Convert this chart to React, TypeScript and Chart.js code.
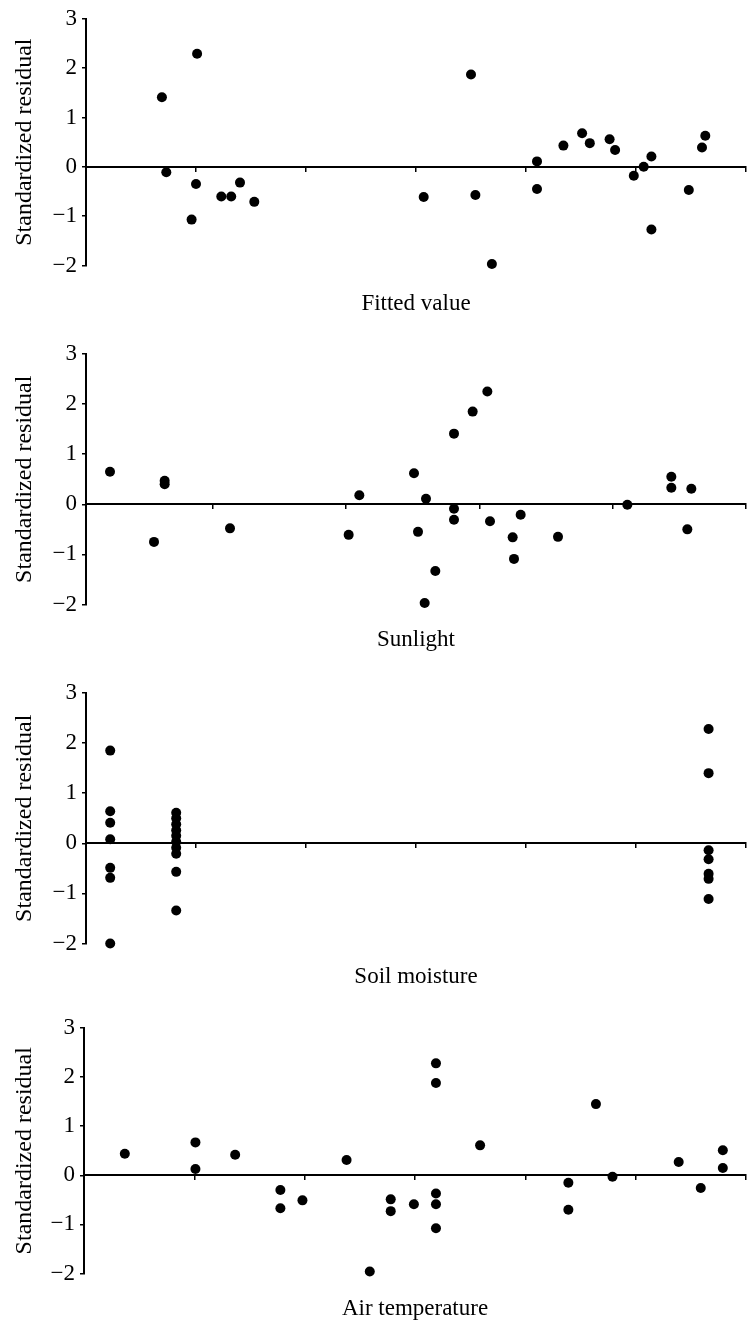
import React, { useEffect, useRef } from 'react';
import { Chart, registerables } from 'chart.js';

Chart.register(...registerables);

// ---------- DATA ----------
const yTickValues = [-2, -1, 0, 1, 2, 3];
const yTickLabels = ['\u22122', '\u22121', '0', '1', '2', '3'];
const yAxisTitle = 'Standardized residual';

const fittedTitle = 'Fitted value';
const fittedXRange = [0, 6];
const fittedXTicks = [0, 1, 2, 3, 4, 5, 6];
const fittedX = [0.69, 0.73, 1.01, 1.0, 0.96, 1.23, 1.32, 1.4, 1.53, 3.5, 3.07, 3.54, 3.69, 4.1, 4.1, 4.34, 4.51, 4.58, 4.76, 4.81, 4.98, 5.07, 5.14, 5.14, 5.48, 5.6, 5.63];
const fittedY = [1.41, -0.11, 2.29, -0.35, -1.07, -0.6, -0.6, -0.32, -0.71, 1.87, -0.61, -0.57, -1.97, 0.11, -0.45, 0.43, 0.68, 0.48, 0.56, 0.34, -0.18, 0.0, 0.21, -1.27, -0.47, 0.39, 0.63];

const sunTitle = 'Sunlight';
const sunXRange = [0.05, 5];
const sunXTicks = [1, 2, 3, 4, 5];
const sunX = [0.23, 0.56, 0.64, 0.64, 1.13, 2.02, 2.1, 2.51, 2.6, 2.54, 2.67, 2.59, 2.81, 2.81, 2.81, 2.95, 3.06, 3.08, 3.25, 3.26, 3.31, 3.59, 4.11, 4.44, 4.44, 4.59, 4.56];
const sunY = [0.65, -0.75, 0.47, 0.4, -0.48, -0.61, 0.18, 0.62, 0.11, -0.55, -1.33, -1.97, 1.41, -0.09, -0.31, 1.85, 2.25, -0.34, -0.66, -1.09, -0.21, -0.65, -0.01, 0.55, 0.33, 0.31, -0.5];

const soilTitle = 'Soil moisture';
const soilXRange = [0, 6];
const soilXTicks = [0, 1, 2, 3, 4, 5, 6];
const soilX = [0.22, 0.22, 0.22, 0.22, 0.22, 0.22, 0.22, 0.82, 0.82, 0.82, 0.82, 0.82, 0.82, 0.82, 0.82, 0.82, 0.82, 5.66, 5.66, 5.66, 5.66, 5.66, 5.66, 5.66];
const soilY = [1.85, 0.64, 0.41, 0.08, -0.49, -0.69, -2.0, 0.61, 0.5, 0.38, 0.26, 0.15, 0.03, -0.09, -0.21, -0.57, -1.34, 2.28, 1.4, -0.14, -0.32, -0.61, -0.71, -1.11];

const airTitle = 'Air temperature';
const airXRange = [0, 6];
const airXTicks = [0, 1, 2, 3, 4, 5, 6];
const airX = [0.37, 1.01, 1.01, 1.37, 1.78, 1.78, 1.98, 2.38, 2.59, 2.78, 2.78, 2.99, 3.19, 3.19, 3.19, 3.19, 3.19, 3.59, 4.39, 4.39, 4.64, 4.79, 5.39, 5.59, 5.79, 5.79];
const airY = [0.44, 0.67, 0.13, 0.42, -0.3, -0.67, -0.51, 0.31, -1.96, -0.49, -0.73, -0.59, 2.28, 1.88, -0.37, -0.59, -1.08, 0.61, -0.15, -0.7, 1.45, -0.03, 0.27, -0.26, 0.51, 0.15];

// ---------- LAYOUT (page pixels) ----------
const SERIF = "'Liberation Serif', 'Times New Roman', 'DejaVu Serif', serif";
const TITLE_SIZE = 23;

const PANELS = [
  { title: fittedTitle, xs: fittedX, ys: fittedY, range: fittedXRange, xTicks: fittedXTicks, canvasTop: 0, chartTop: 14, chartBottom: 265, titleMid: 303, left: 86 },
  { title: sunTitle, xs: sunX, ys: sunY, range: sunXRange, xTicks: sunXTicks, canvasTop: 325, chartTop: 354, chartBottom: 604, titleMid: 639, left: 86 },
  { title: soilTitle, xs: soilX, ys: soilY, range: soilXRange, xTicks: soilXTicks, canvasTop: 664, chartTop: 693, chartBottom: 943, titleMid: 976, left: 86 },
  { title: airTitle, xs: airX, ys: airY, range: airXRange, xTicks: airXTicks, canvasTop: 999, chartTop: 1028, chartBottom: 1273, titleMid: 1308, left: 84 },
];

function Panel({ p }: { p: any }) {
  const ref = useRef<HTMLCanvasElement | null>(null);
  const titlePadTop = p.titleMid - p.chartBottom - TITLE_SIZE / 2;
  const titlePadBottom = 0;
  const height = Math.min(
    1321 - p.canvasTop,
    Math.round(p.chartBottom - p.canvasTop + titlePadTop + TITLE_SIZE + titlePadBottom)
  );

  useEffect(() => {
    if (!ref.current) return;
    const chart = new Chart(ref.current, {
      type: 'scatter',
      data: {
        datasets: [
          {
            data: p.xs.map((x: number, i: number) => ({ x, y: p.ys[i] })),
            backgroundColor: '#000',
            borderColor: '#000',
            borderWidth: 0,
            pointRadius: 5,
            pointHoverRadius: 5,
            clip: false,
          },
        ],
      },
      options: {
        animation: false,
        responsive: false,
        devicePixelRatio: 1,
        events: [],
        layout: { padding: { top: p.chartTop - p.canvasTop, left: 0, right: 0, bottom: 0 } },
        plugins: {
          legend: { display: false },
          tooltip: { enabled: false },
          title: {
            display: true,
            text: p.title,
            position: 'bottom',
            fullSize: false,
            color: '#000',
            font: { family: SERIF, size: TITLE_SIZE, weight: 'normal', lineHeight: 1.0 },
            padding: { top: titlePadTop, bottom: titlePadBottom },
          },
        },
        scales: {
          x: {
            type: 'linear',
            position: { y: 0 },
            min: p.range[0],
            max: p.range[1],
            afterBuildTicks: (s: any) => {
              s.ticks = p.xTicks.map((v: number) => ({ value: v }));
            },
            ticks: { display: false },
            grid: { drawOnChartArea: false, drawTicks: true, tickLength: 4, color: '#000', lineWidth: 1.5 },
            border: { display: true, color: '#000', width: 2 },
          },
          y: {
            type: 'linear',
            position: 'left',
            min: -2,
            max: 3,
            afterBuildTicks: (s: any) => {
              s.ticks = yTickValues.map((v) => ({ value: v }));
            },
            afterFit: (s: any) => {
              s.width = p.left;
            },
            ticks: {
              color: '#000',
              padding: 5,
              font: { family: SERIF, size: 23 },
              callback: (v: any) => yTickLabels[yTickValues.indexOf(Number(v))],
            },
            grid: { drawOnChartArea: false, drawTicks: true, tickLength: 4, color: '#000', lineWidth: 1.5 },
            border: { display: true, color: '#000', width: 2 },
            title: {
              display: true,
              text: yAxisTitle,
              color: '#000',
              font: { family: SERIF, size: 24 },
              padding: { top: 10, bottom: 0 },
            },
          },
        },
      } as any,
    });
    return () => chart.destroy();
  }, []);

  return (
    <div style={{ position: 'absolute', left: 0, top: p.canvasTop, width: 751, height }}>
      <canvas ref={ref} width={751} height={height} style={{ display: 'block', width: 751, height }} />
    </div>
  );
}

export default function App() {
  return (
    <div style={{ position: 'absolute', left: 0, top: 0, width: 751, height: 1321, overflow: 'hidden', background: '#fff' }}>
      {PANELS.map((p, i) => (
        <Panel key={i} p={p} />
      ))}
    </div>
  );
}
